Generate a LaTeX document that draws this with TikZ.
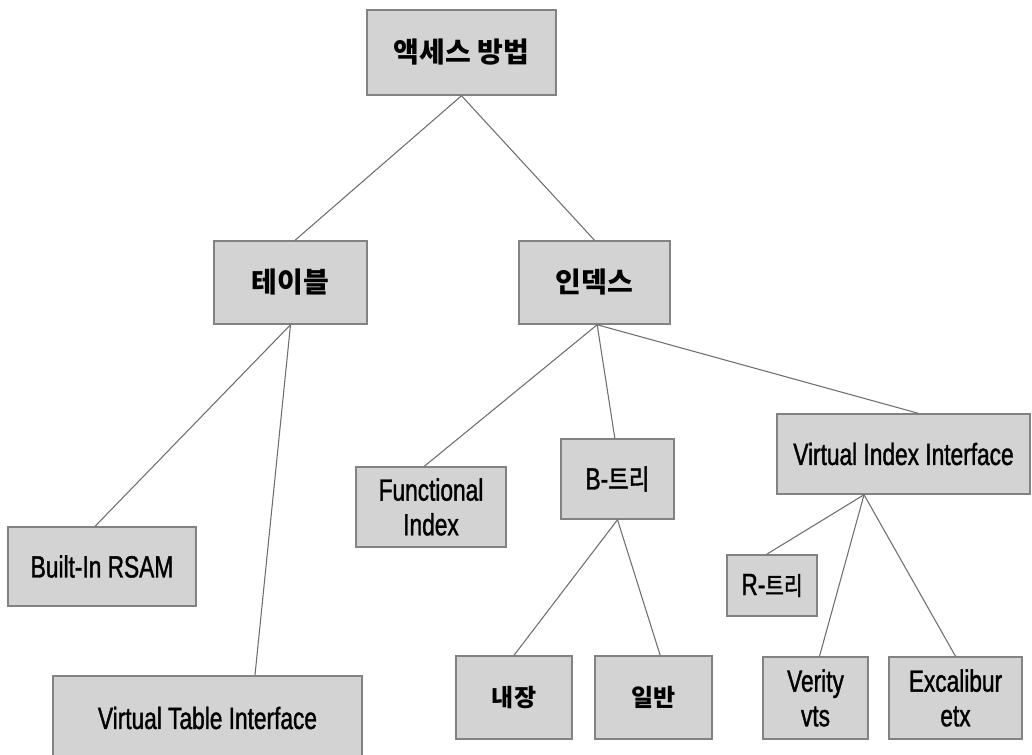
\documentclass[tikz,border=0pt]{standalone}
\usepackage{fontspec}
\setmainfont[FakeStretch=0.74, FakeBold=1.2]{Liberation Sans}
\newfontfamily\kofont{Noto Sans CJK KR}
\newfontfamily\konarrow[FakeStretch=0.8, FakeBold=1.4]{Noto Sans CJK KR}
\begin{document}
\begin{tikzpicture}[x=0.75pt, y=-0.75pt,
  box/.style={draw={rgb,255:red,130;green,130;blue,130}, fill={rgb,255:red,211;green,211;blue,211}, line width=1.1pt, inner sep=0pt, align=center, font=\fontsize{23}{26}\selectfont},
  wh/.style 2 args={minimum width=#1*0.75pt, minimum height=#2*0.75pt},
  kbig/.style={font=\kofont\bfseries\fontsize{21}{24}\selectfont},
  ksmall/.style={font=\kofont\bfseries\fontsize{18}{22}\selectfont},
  link/.style={draw={rgb,255:red,110;green,110;blue,110}, line width=0.8pt}]
\useasboundingbox (0,0) rectangle (1032,754);
\node[box, kbig, wh={189}{85}] (top) at (461.5,52.5) {액세스 방법};
\node[box, kbig, wh={153}{83}] (tbl) at (290.5,282.5) {테이블};
\node[box, kbig, wh={151}{83}] (idx) at (594.5,282.5) {인덱스};
\node[box, wh={188}{79}] (rsam) at (102,566.5) {Built-In RSAM};
\node[box, wh={309}{84}] (vti) at (207.5,718) {Virtual Table Interface};
\node[box, wh={150}{80}] (func) at (431,507) {Functional\\Index};
\node[box, wh={113}{80}] (btree) at (617.5,479) {B-{\konarrow\fontsize{21}{24}\selectfont 트리}};
\node[box, wh={253}{80}] (vii) at (903.5,454) {Virtual Index Interface};
\node[box, ksmall, wh={116}{83}] (nj) at (514,697.5) {내장};
\node[box, ksmall, wh={117}{83}] (ib) at (653.5,697.5) {일반};
\node[box, wh={90}{61}] (rtree) at (772,585.5) {R-{\konarrow\fontsize{19}{22}\selectfont 트리}};
\node[box, wh={105}{82}] (vts) at (815.5,698) {Verity\\vts};
\node[box, wh={133}{82}] (etx) at (955.5,698) {Excalibur\\etx};
\coordinate (idxb) at ([xshift=2pt]idx.south);
\coordinate (viib) at ([xshift=-29.6pt]vii.south);
\draw[link] (top.south) -- ([xshift=3.4pt]tbl.north);
\draw[link] (top.south) -- (idx.north);
\draw[link] (tbl.south) -- ([xshift=-5.2pt]rsam.north);
\draw[link] (tbl.south) -- ([xshift=35.6pt]vti.north);
\draw[link] (idxb) -- ([xshift=-5pt]func.north);
\draw[link] (idxb) -- ([xshift=-2pt]btree.north);
\draw[link] (idxb) -- ([xshift=11pt]vii.north);
\draw[link] (btree.south) -- (nj.north);
\draw[link] (btree.south) -- ([xshift=5pt]ib.north);
\draw[link] (viib) -- ([xshift=-4pt]rtree.north);
\draw[link] (viib) -- ([xshift=3pt]vts.north);
\draw[link] (viib) -- (etx.north);
\end{tikzpicture}
\end{document}
